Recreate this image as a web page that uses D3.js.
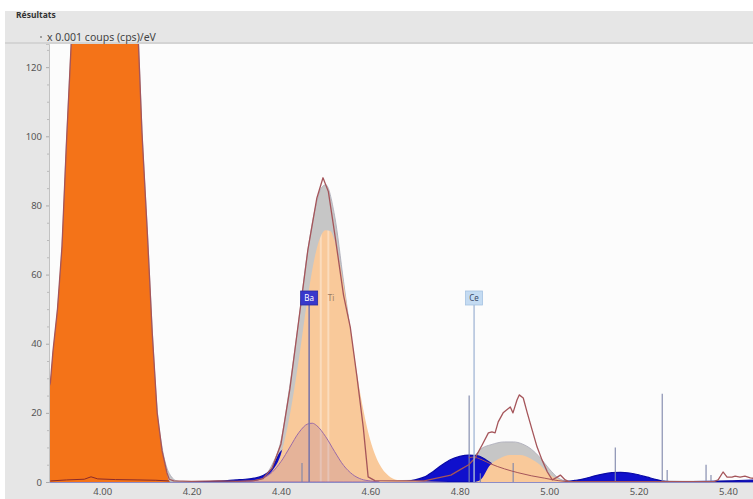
<!DOCTYPE html>
<html>
<head>
<meta charset="utf-8">
<script src="https://cdn.jsdelivr.net/npm/d3@7"></script>
<style>
  html, body { margin: 0; padding: 0; background: #fff; }
  svg { display: block; font-family: "Noto Sans", "DejaVu Sans", sans-serif; }
</style>
</head>
<body>
<svg id="chart" width="753" height="499"></svg>
<script>
// ---- EDS spectrum, counts in x0.001 cps/eV against energy in keV ----

// Ca Kβ peak (clipped at the top of the plot)
const caKbEnergy = [3.86, 3.884, 3.89, 3.90, 3.91, 3.92, 3.93, 3.94, 3.96, 4.00, 4.04, 4.07, 4.081, 4.089, 4.101, 4.112, 4.123, 4.134, 4.145, 4.148, 4.152];
const caKbCounts = [18, 28.6, 38, 50, 68, 98, 125, 150, 200, 260, 230, 170, 127, 101, 72, 43, 20, 9, 2.6, 0.6, 0];

// total fit
const fitEnergy = [3.86, 3.884, 3.89, 3.90, 3.91, 3.92, 3.93, 3.96, 4.00, 4.05, 4.081, 4.089, 4.101, 4.112, 4.123, 4.134, 4.145, 4.155, 4.165, 4.18, 4.25, 4.30, 4.34, 4.36, 4.38, 4.40, 4.42, 4.44, 4.46, 4.48, 4.49, 4.50, 4.52, 4.54, 4.56, 4.58, 4.60, 4.62, 4.64, 4.66, 4.70, 4.74, 4.78, 4.80, 4.82, 4.834, 4.85, 4.87, 4.90, 4.92, 4.94, 4.96, 4.98, 5.00, 5.02, 5.04, 5.06, 5.10, 5.15, 5.20, 5.26, 5.30, 5.40, 5.46];
const fitCounts = [20, 28, 37, 50, 68, 98, 125, 200, 255, 200, 128, 102, 73, 44, 21, 10, 4, 1.5, 0.4, 0.1, 0.1, 0.2, 0.7, 1.5, 5, 12, 28, 47, 67, 81, 85, 86, 77, 58, 39, 20, 8, 3, 1, 0.4, 0.5, 1.5, 3, 4, 6.5, 7.8, 9.8, 10.8, 11.6, 11.6, 11.0, 9.5, 7.0, 3.8, 1.2, 0.3, 0.2, 1.0, 2.0, 1.5, 0.3, 0.2, 0.2, 0.4];

// Ti Kα / Ti Kβ
const tiEnergy = [4.30, 4.32, 4.34, 4.36, 4.38, 4.40, 4.42, 4.44, 4.46, 4.48, 4.50, 4.51, 4.52, 4.54, 4.56, 4.58, 4.60, 4.62, 4.64, 4.66, 4.70, 4.75, 4.80, 4.83, 4.846, 4.868, 4.890, 4.913, 4.935, 4.957, 4.980, 5.002, 5.025, 5.04];
const tiCounts = [0, 0.1, 0.3, 1.1, 3.2, 8.1, 19.5, 35.5, 53.5, 67.5, 72.8, 72.6, 69.8, 57.1, 39.9, 23.7, 12.0, 5.2, 1.9, 0.6, 0.3, 0.1, 0, 0, 0.6, 4.9, 6.9, 7.8, 7.8, 6.9, 4.9, 2.0, 0.6, 0];

// Ba Lα
const baEnergy = [4.30, 4.32, 4.34, 4.36, 4.38, 4.40, 4.42, 4.44, 4.46, 4.47, 4.48, 4.50, 4.52, 4.54, 4.56, 4.58, 4.60, 4.62];
const baCounts = [0, 0.1, 0.4, 1.1, 2.8, 5.9, 10.1, 14.3, 16.8, 17.0, 16.3, 13.1, 8.8, 4.8, 2.2, 0.8, 0.3, 0];

// Ce L lines
const ceEnergy = [4.20, 4.25, 4.28, 4.30, 4.32, 4.34, 4.36, 4.38, 4.40, 4.42, 4.44, 4.46, 4.48, 4.50, 4.52, 4.55, 4.60, 4.65, 4.68, 4.70, 4.72, 4.74, 4.76, 4.78, 4.80, 4.82, 4.84, 4.86, 4.88, 4.90, 4.92, 4.94, 4.97, 5.00, 5.04, 5.06, 5.08, 5.10, 5.12, 5.14, 5.16, 5.18, 5.20, 5.22, 5.24, 5.26, 5.28, 5.32, 5.40, 5.46];
const ceCounts = [0, 0.2, 0.4, 0.6, 0.8, 1.1, 1.9, 3.9, 8.8, 10, 9, 8.5, 7, 5, 3, 1.2, 0.4, 0.2, 0.2, 0.6, 1.4, 3.0, 4.9, 6.5, 7.4, 7.8, 7.6, 6.3, 4.5, 2.8, 1.5, 0.7, 0.2, 0.15, 0.2, 0.5, 1.0, 1.7, 2.3, 2.7, 2.8, 2.6, 2.1, 1.4, 0.7, 0.2, 0.15, 0.15, 0.3, 0.6];

// secondary fitted component on the Ti Kβ side
const compEnergy = [4.82, 4.83, 4.85, 4.87, 4.90, 4.93, 4.96, 4.99, 5.02, 5.05];
const compCounts = [7.0, 7.2, 6.4, 5.2, 3.8, 2.7, 1.8, 1.1, 0.4, 0];

// low background trace under the Ca peak
const lowEnergy = [3.884, 3.92, 3.96, 3.975, 3.99, 4.03, 4.08, 4.12, 4.15];
const lowCounts = [0.3, 0.6, 0.8, 1.5, 0.9, 0.7, 0.6, 0.5, 0.3];

// measured spectrum
const spectrumEnergy = [3.86, 3.884, 3.89, 3.90, 3.91, 3.92, 3.93, 3.96, 4.00, 4.05, 4.081, 4.089, 4.101, 4.112, 4.123, 4.134, 4.145, 4.15, 4.16, 4.20, 4.26, 4.30, 4.34, 4.36, 4.38, 4.40, 4.42, 4.44, 4.46, 4.48, 4.494, 4.506, 4.52, 4.54, 4.555, 4.57, 4.584, 4.595, 4.61, 4.66, 4.72, 4.78, 4.80, 4.82, 4.834, 4.850, 4.864, 4.872, 4.879, 4.886, 4.897, 4.913, 4.919, 4.928, 4.933, 4.942, 4.951, 4.962, 4.973, 4.984, 4.996, 5.007, 5.018, 5.025, 5.036, 5.043, 5.10, 5.20, 5.30, 5.37, 5.378, 5.389, 5.398, 5.409, 5.416, 5.427, 5.438, 5.45, 5.46];
const spectrumCounts = [20, 28.6, 38, 50, 68, 98, 125, 200, 262, 205, 127, 101, 72, 43, 20, 9, 2.6, 0.8, 0.3, 0.2, 0.3, 0.2, 0.4, 1, 4, 11, 27, 47, 67, 82, 88, 84, 72, 54, 44.8, 30.4, 15.9, 1.5, 0.4, 0.3, 0.3, 2, 3.5, 5, 6.9, 10.7, 14.2, 14.5, 14.2, 17.4, 20.0, 21.7, 20.0, 23.7, 25.2, 24.3, 20.0, 15.0, 10.1, 6.4, 2.9, 0.6, 1.4, 2.0, 0.6, 0.2, 0.1, 0.1, 0.1, 0.2, 0.6, 2.9, 1.4, 1.4, 1.7, 1.4, 1.7, 1.2, 1.0];

// line markers (energy, height)
const markerEnergy = [4.447, 4.821, 4.846, 4.9195, 5.148, 5.253, 5.264, 5.351, 5.362];
const markerHeight = [5.5, 25, 2.5, 5.5, 10, 25.5, 3.5, 5, 2];

// element labels
const elementNames = ["Ba", "Ti", "Ce"];
const elementEnergy = [4.463, 4.512, 4.832];

// Ti line stripes
const tiStripeEnergy = [4.489, 4.506];

// axes
const xTicks = [4.0, 4.2, 4.4, 4.6, 4.8, 5.0, 5.2, 5.4];
const yTicks = [0, 20, 40, 60, 80, 100, 120];

// ---- layout ----
const W = 753, H = 499;
const plot = { left: 49, top: 44, right: 753, bottom: 482 };

const svg = d3.select("#chart");

svg.append("rect").attr("x", 0).attr("y", 0).attr("width", W).attr("height", H).attr("fill", "#ffffff");
svg.append("rect").attr("x", 5).attr("y", 11).attr("width", W - 5).attr("height", H - 11).attr("fill", "#e6e6e6");
svg.append("rect").attr("x", plot.left).attr("y", plot.top)
  .attr("width", plot.right - plot.left).attr("height", plot.bottom - plot.top).attr("fill", "#fcfcfc");
svg.append("line").attr("x1", 5).attr("x2", W).attr("y1", plot.top - 1).attr("y2", plot.top - 1)
  .attr("stroke", "#d4d4d4").attr("stroke-width", 2);

svg.append("text").attr("x", 16).attr("y", 18).text("Résultats")
  .attr("font-size", 8.5).attr("font-weight", "bold").attr("fill", "#333");
svg.append("circle").attr("cx", 41).attr("cy", 37).attr("r", 1).attr("fill", "#888");
svg.append("text").attr("x", 47).attr("y", 41).text("x 0.001 coups (cps)/eV")
  .attr("font-size", 10.5).attr("fill", "#444");

const x = d3.scaleLinear().domain([3.881, 5.456]).range([plot.left, plot.right]);
const y = d3.scaleLinear().domain([0, 126.7]).range([plot.bottom, plot.top]);

const defs = svg.append("defs");
defs.append("clipPath").attr("id", "plotClip").append("rect")
  .attr("x", plot.left).attr("y", plot.top)
  .attr("width", plot.right - plot.left).attr("height", plot.bottom - plot.top + 1);

const g = svg.append("g").attr("clip-path", "url(#plotClip)");

const pts = (e, c) => d3.zip(e, c);
const areaSmooth = d3.area().x(d => x(d[0])).y0(y(0)).y1(d => y(d[1])).curve(d3.curveMonotoneX);
const areaLinear = d3.area().x(d => x(d[0])).y0(y(0)).y1(d => y(d[1])).curve(d3.curveLinear);
const lineSmooth = d3.line().x(d => x(d[0])).y(d => y(d[1])).curve(d3.curveMonotoneX);
const lineLinear = d3.line().x(d => x(d[0])).y(d => y(d[1])).curve(d3.curveLinear);

// total fit
g.append("path").attr("d", areaSmooth(pts(fitEnergy, fitCounts)))
  .attr("fill", "#c6c6c6").attr("stroke", "#a8a8b6").attr("stroke-width", 0.8);

// Ca Kβ
g.append("path").attr("d", areaLinear(pts(caKbEnergy, caKbCounts)))
  .attr("fill", "#f47318");

// Ce L lines
g.append("path").attr("d", areaSmooth(pts(ceEnergy, ceCounts)))
  .attr("fill", "#1010cc").attr("stroke", "#0a0aa6").attr("stroke-width", 1.2);

// Ti
const tiPath = areaSmooth(pts(tiEnergy, tiCounts));
g.append("path").attr("d", tiPath).attr("fill", "#f9c99a");
defs.append("clipPath").attr("id", "tiClip").append("path").attr("d", tiPath);
g.append("g").attr("clip-path", "url(#tiClip)")
  .selectAll("line").data(tiStripeEnergy).join("line")
  .attr("x1", d => x(d)).attr("x2", d => x(d))
  .attr("y1", y(0)).attr("y2", y(120))
  .attr("stroke", "#ffffff").attr("stroke-opacity", 0.35).attr("stroke-width", 2);

// Ba
g.append("path").attr("d", areaSmooth(pts(baEnergy, baCounts)))
  .attr("fill", "rgba(130,70,150,0.17)").attr("stroke", "#9a6aa8").attr("stroke-width", 1);

// low background trace
g.append("path").attr("d", lineLinear(pts(lowEnergy, lowCounts)))
  .attr("fill", "none").attr("stroke", "#8a2a2a").attr("stroke-width", 1);

// marker lines
g.selectAll("line.marker").data(d3.zip(markerEnergy, markerHeight)).join("line")
  .attr("class", "marker")
  .attr("x1", d => x(d[0])).attr("x2", d => x(d[0]))
  .attr("y1", y(0)).attr("y2", d => y(d[1]))
  .attr("stroke", "#7e86aa").attr("stroke-width", 1.3).attr("stroke-opacity", 0.85);

// secondary component
g.append("path").attr("d", lineSmooth(pts(compEnergy, compCounts)))
  .attr("fill", "none").attr("stroke", "#a5555a").attr("stroke-width", 1);

// measured spectrum
g.append("path").attr("d", lineLinear(pts(spectrumEnergy, spectrumCounts)))
  .attr("fill", "none").attr("stroke", "#a5555a").attr("stroke-width", 1.3)
  .attr("stroke-linejoin", "round");

// ---- axes ----
const yAxis = svg.append("g").attr("transform", `translate(${plot.left},0)`)
  .call(d3.axisLeft(y).tickValues(yTicks).tickSize(3).tickPadding(4));
yAxis.select(".domain").attr("stroke", "#c2c2c2");
yAxis.selectAll(".tick line").attr("stroke", "#aaa");
yAxis.selectAll("text").attr("font-size", 9.5).attr("fill", "#555").attr("font-family", "Noto Sans, sans-serif");

const minorY = d3.range(0, 127, 5).filter(v => v % 20 !== 0);
svg.append("g").attr("transform", `translate(${plot.left},0)`)
  .call(d3.axisLeft(y).tickValues(minorY).tickSize(2).tickFormat(""))
  .call(s => s.select(".domain").remove())
  .selectAll(".tick line").attr("stroke", "#bbb");

const xAxis = svg.append("g").attr("transform", `translate(0,${plot.bottom})`)
  .call(d3.axisBottom(x).tickValues(xTicks).tickFormat(d3.format(".2f")).tickSize(0).tickPadding(6));
xAxis.select(".domain").attr("stroke", "#8c8cc6").attr("stroke-width", 1.2);
xAxis.selectAll("text").attr("font-size", 9.5).attr("fill", "#555").attr("font-family", "Noto Sans, sans-serif");

// ---- element labels ----
const labelY = 298;
const labels = svg.append("g").attr("font-size", 8);
elementNames.forEach((name, i) => {
  const cx = x(elementEnergy[i]);
  if (name === "Ti") {
    labels.append("text").attr("x", cx).attr("y", labelY + 3).attr("text-anchor", "middle")
      .attr("fill", "#9a7a62").text(name);
    return;
  }
  const dark = name === "Ba";
  labels.append("line").attr("x1", cx).attr("x2", cx).attr("y1", labelY + 7).attr("y2", y(0))
    .attr("stroke", dark ? "#7e78a8" : "#a9bcd8").attr("stroke-width", dark ? 1.6 : 1.4);
  labels.append("rect").attr("x", cx - 8.5).attr("y", labelY - 7).attr("width", 17).attr("height", 14)
    .attr("fill", dark ? "#3838cc" : "#c4dbf2").attr("stroke", dark ? "#2a2aa0" : "#a6c2e2").attr("stroke-width", 0.8);
  labels.append("text").attr("x", cx).attr("y", labelY + 3).attr("text-anchor", "middle")
    .attr("fill", dark ? "#ffffff" : "#3a4a66").text(name);
});
</script>
</body>
</html>
